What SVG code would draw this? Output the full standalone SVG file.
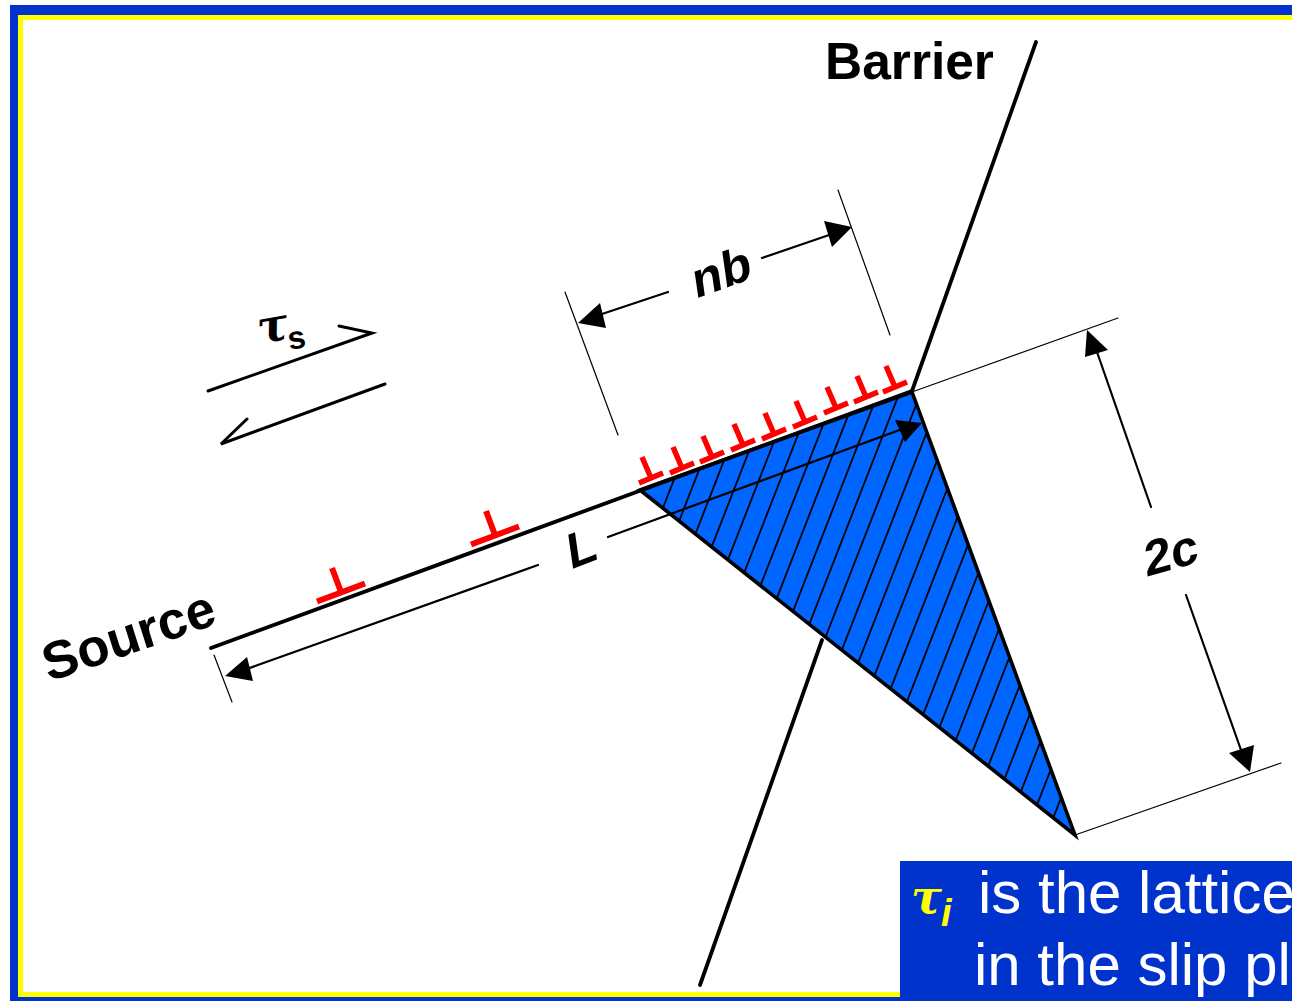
<svg xmlns="http://www.w3.org/2000/svg" width="1292" height="1001" viewBox="0 0 1292 1001">
<defs>
<style>
.s{fill:none;stroke:#000;stroke-linecap:round}
.th{stroke-width:1.2}
.md{stroke-width:2.2}
.sh{stroke-width:3}
.hv{stroke-width:3.8}
.h{stroke-width:1.8}
.d{fill:none;stroke:#f00;stroke-width:5.5}
.a{fill:#000;stroke:none}
.t{font-family:"Liberation Sans",Arial,sans-serif;fill:#000}
.b{font-weight:700}
.w{font-family:"Liberation Sans",Arial,sans-serif;fill:#fff;font-size:60px}
.g{font-family:"DejaVu Serif",serif;font-style:italic}
</style>
<clipPath id="tri"><polygon points="640,490 912,392 1075,835"/></clipPath>
<path id="dis" class="d" d="M-12,5L12,-5M0,0L-9,-21"/>
<path id="dis2" d="M-24,9.500L24,-8.500M0,0L-9,-24" fill="none" stroke="#f00" stroke-width="6"/>
</defs>
<rect width="1292" height="1001" fill="#fff"/>
<path id="frame-blue" d="M10,1001V5H1292V15H18V997H1292V1001Z" fill="#0033cc"/>
<path id="frame-yellow" d="M18,997V15H1292V20H23V992H1292V997Z" fill="#ff0"/>

<g id="triangle">
<polygon points="640,490 912,392 1075,835" fill="#0066ff"/>
<path class="s h" clip-path="url(#tri)" d="M714,377l-195,500M735.300,377l-195,500M756.600,377l-195,500M777.900,377l-195,500M799.200,377l-195,500M820.500,377l-195,500M841.800,377l-195,500M863.100,377l-195,500M884.400,377l-195,500M905.700,377l-195,500M927,377l-195,500M948.300,377l-195,500M969.600,377l-195,500M990.900,377l-195,500M1012.200,377l-195,500M1033.500,377l-195,500M1054.800,377l-195,500M1076.100,377l-195,500M1097.400,377l-195,500M1118.700,377l-195,500M1140,377l-195,500M1161.300,377l-195,500M1182.600,377l-195,500M1203.900,377l-195,500M1225.200,377l-195,500"/>
<polygon points="640,490 912,392 1075,835" fill="none" stroke="#000" stroke-width="3.6" stroke-linejoin="miter"/>
</g>

<g id="connectors">
<path class="s hv" d="M211,648L912,391"/>
<path class="s hv" d="M1036,42L912,391M822,640L700,985"/>
<path class="s sh" d="M208,391L372,333L339,326M385,384L221,444L247,419"/>
<path class="s th" d="M565,292L618,435M838,190L890,335M214,655L232,702M912,392L1118,318M1075,835L1281,763"/>
<path class="s md" d="M596,316L668,292M762,258L832,234"/>
<polygon class="a" points="578,323 600,303 606,328"/>
<polygon class="a" points="852,227 824,221 832,247"/>
<path class="s md" d="M244,670L538,565M608,537L905,428"/>
<polygon class="a" points="225,676 247,657 253,681"/>
<polygon class="a" points="922,423 895,420 905,442"/>
<path class="s md" d="M1097,352L1151,507M1186,595L1241,750"/>
<polygon class="a" points="1087,330 1085,357 1108,350"/>
<polygon class="a" points="1250,772 1229,753 1254,745"/>
</g>

<g id="dislocations">
<use href="#dis" x="651" y="478"/><use href="#dis" x="682" y="468"/><use href="#dis" x="712" y="457"/>
<use href="#dis" x="743" y="445"/><use href="#dis" x="774" y="434"/><use href="#dis" x="805" y="422"/>
<use href="#dis" x="836" y="408"/><use href="#dis" x="866" y="397"/><use href="#dis" x="895" y="387"/>
<use href="#dis2" x="341" y="592"/><use href="#dis2" x="495" y="535"/>
</g>

<g id="labels">
<text class="t b" x="825" y="79" font-size="51.500">Barrier</text>
<text class="t b" font-size="53" transform="matrix(.945 -.326 .3 .95 49 682)">Source</text>
<text class="t b" font-size="50" transform="matrix(.95 -.34 .14 .99 695 299)">nb</text>
<text class="t b" font-size="50" transform="matrix(.93 -.36 .14 .99 570 570)">L</text>
<text class="t b" font-size="50" transform="matrix(.96 -.27 .1 .99 1146 577)">2c</text>
<text class="g" transform="translate(260,344) rotate(-10)" font-size="46" font-weight="700">τ<tspan class="t b" font-size="32" font-style="normal" dy="11" dx="-3">s</tspan></text>
</g>

<g id="note">
<rect x="900" y="861" width="392" height="140" fill="#0033cc"/>
<text class="g" x="911" y="913" font-size="46" font-weight="700" fill="#ff0">τ<tspan font-family="Liberation Sans" font-size="38" dy="13" dx="-1">i</tspan></text>
<text class="w" x="978" y="913">is the lattice</text>
<text class="w" x="974" y="985">in the slip pl</text>
</g>
</svg>
